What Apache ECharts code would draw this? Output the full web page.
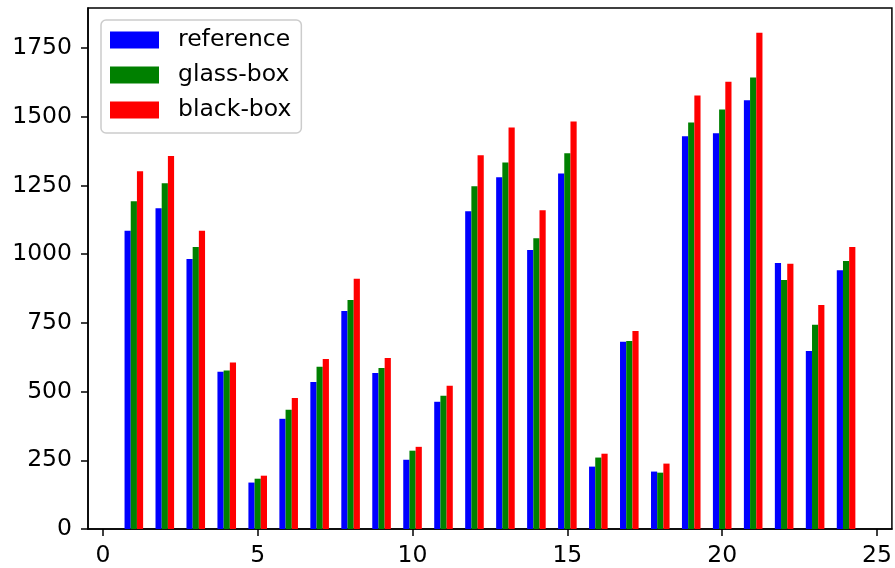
<!DOCTYPE html>
<html>
<head>
<meta charset="utf-8">
<title>reference / glass-box / black-box</title>
<script src="https://cdn.jsdelivr.net/npm/echarts@6/dist/echarts.min.js"></script>
<style>
  html, body { margin: 0; padding: 0; background: #fff; }
  #chart { width: 895px; height: 568px; }
</style>
</head>
<body>
<div id="chart"></div>
<script>
// Group positions on the x axis
const positions = [1, 2, 3, 4, 5, 6, 7, 8, 9, 10, 11, 12, 13, 14, 15, 16, 17, 18, 19, 20, 21, 22, 23, 24];

// Values per series
const referenceValues = [1085, 1167, 983, 572, 169, 401, 535, 793, 568, 252, 463, 1156, 1280, 1015, 1294, 227, 681, 209, 1429, 1440, 1560, 968, 648, 942];
const glassBoxValues  = [1193, 1258, 1026, 577, 183, 434, 590, 833, 586, 285, 485, 1247, 1334, 1058, 1367, 260, 684, 205, 1479, 1527, 1643, 906, 743, 975];
const blackBoxValues  = [1302, 1357, 1085, 606, 194, 477, 619, 911, 622, 299, 521, 1360, 1461, 1160, 1483, 274, 721, 238, 1578, 1628, 1806, 965, 815, 1026];

// Tick labels
const xTicks = [0, 5, 10, 15, 20, 25];
const yTicks = [0, 250, 500, 750, 1000, 1250, 1500, 1750];

const BAR_W = 0.2;
const FONT = '"DejaVu Sans", sans-serif';
const FONT_SIZE = 23.5;

function pairs(values) {
  return positions.map((x, i) => [x, values[i]]);
}

// Draws one bar per point, shifted sideways by `offset` axis units
function barRenderer(offset, color) {
  return function (params, api) {
    const x = api.value(0);
    const y = api.value(1);
    const topLeft = api.coord([x + offset - BAR_W / 2, y]);
    const bottomRight = api.coord([x + offset + BAR_W / 2, 0]);
    return {
      type: 'rect',
      shape: {
        x: topLeft[0],
        y: topLeft[1],
        width: bottomRight[0] - topLeft[0],
        height: bottomRight[1] - topLeft[1]
      },
      style: { fill: color }
    };
  };
}

function barSeries(name, values, offset, color) {
  return {
    name: name,
    type: 'custom',
    data: pairs(values),
    itemStyle: { color: color },
    encode: { x: 0, y: 1 },
    renderItem: barRenderer(offset, color)
  };
}

const chart = echarts.init(document.getElementById('chart'), null, { renderer: 'canvas' });

chart.setOption({
  animation: false,
  backgroundColor: '#ffffff',
  grid: {
    left: 88, top: 8, right: 3, bottom: 38,
    show: true,
    borderColor: '#000',
    borderWidth: 1.5,
    containLabel: false
  },
  legend: {
    orient: 'vertical',
    left: 101,
    top: 20,
    icon: 'rect',
    itemWidth: 49,
    itemHeight: 17,
    itemGap: 11,
    padding: [8, 10, 11, 9],
    backgroundColor: 'rgba(255,255,255,0.8)',
    borderColor: '#cccccc',
    borderWidth: 1.5,
    borderRadius: 5,
    textStyle: {
      fontFamily: FONT,
      fontSize: FONT_SIZE,
      lineHeight: 22,
      color: '#000',
      padding: [0, 0, 0, 14]
    },
    data: ['reference', 'glass-box', 'black-box']
  },
  xAxis: {
    type: 'value',
    min: -0.48,
    max: 25.48,
    axisLine: { show: true, onZero: false, lineStyle: { color: '#000', width: 1.5 } },
    axisTick: {
      show: true,
      customValues: xTicks,
      length: 7,
      lineStyle: { color: '#000', width: 1.5 }
    },
    axisLabel: {
      customValues: xTicks,
      formatter: v => String(v),
      fontFamily: FONT,
      fontSize: FONT_SIZE,
      color: '#000',
      margin: 15
    },
    splitLine: { show: false }
  },
  yAxis: {
    type: 'value',
    min: 0,
    max: 1896,
    axisLine: { show: true, onZero: false, lineStyle: { color: '#000', width: 1.5 } },
    axisTick: {
      show: true,
      customValues: yTicks,
      length: 7,
      lineStyle: { color: '#000', width: 1.5 }
    },
    axisLabel: {
      customValues: yTicks,
      formatter: v => String(v),
      fontFamily: FONT,
      fontSize: FONT_SIZE,
      color: '#000',
      margin: 16
    },
    splitLine: { show: false }
  },
  series: [
    barSeries('reference', referenceValues, -BAR_W, '#0000ff'),
    barSeries('glass-box', glassBoxValues, 0, '#008000'),
    barSeries('black-box', blackBoxValues, BAR_W, '#ff0000')
  ]
});
</script>
</body>
</html>
